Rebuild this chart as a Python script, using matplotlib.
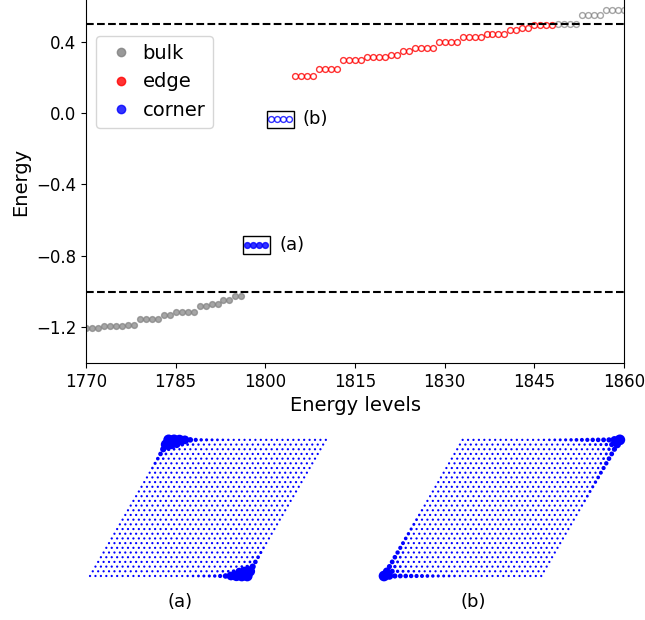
import numpy as np
import matplotlib
matplotlib.use("Agg")
import matplotlib.pyplot as plt
from matplotlib.lines import Line2D
from matplotlib.patches import Rectangle

# energies (first level index + values)
bulk_low_start = 1770
bulk_low = [-1.204, -1.204, -1.204, -1.194, -1.194, -1.194, -1.194, -1.185, -1.185,
            -1.155, -1.155, -1.155, -1.155, -1.131, -1.131, -1.114, -1.114, -1.114,
            -1.114, -1.079, -1.079, -1.067, -1.067, -1.049, -1.049, -1.023, -1.023]
corner_a_start = 1797
corner_a = [-0.741, -0.741, -0.741, -0.741]
corner_b_start = 1801
corner_b = [-0.035, -0.035, -0.035, -0.035]
edge_start = 1805
edge = [0.207, 0.207, 0.207, 0.207, 0.249, 0.249, 0.249, 0.249,
        0.298, 0.298, 0.298, 0.298, 0.316, 0.316, 0.316, 0.316,
        0.324, 0.324, 0.346, 0.346, 0.363, 0.363, 0.363, 0.363,
        0.398, 0.398, 0.398, 0.398, 0.424, 0.424, 0.424, 0.424,
        0.441, 0.441, 0.441, 0.441, 0.463, 0.463, 0.474, 0.474,
        0.495, 0.495, 0.495, 0.495]
bulk_high_start = 1849
bulk_high = [0.500, 0.500, 0.500, 0.500, 0.549, 0.549, 0.549, 0.549,
             0.575, 0.575, 0.575, 0.575]

gap_lines = [0.5, -1.0]
x_ticks = [1770, 1785, 1800, 1815, 1830, 1845, 1860]
y_ticks = [-1.2, -0.8, -0.4, 0.0, 0.4]

# lattice (rhombus, N x N sites) and marker sizes near the corners
n_sites = 30
bulk_size = 2.6
# rows: steps away from the corner along the slanted edge, cols: along the row
obtuse_sizes = [[60, 60, 55, 40, 16, 9, 6, 5, 4.5, 4, 3.5, 3],
                [55, 45, 26, 8, 4, 3.5, 3],
                [20, 7, 4, 3],
                [11, 4, 3],
                [7, 3.5],
                [5],
                [3.5]]
acute_sizes = [[60, 30, 14, 12, 11, 10, 9, 8, 7, 6, 5, 4.5, 4, 3.5, 3],
               [30, 14, 6, 4.5, 4, 3.5, 3],
               [14, 6, 4, 3],
               [12, 4.5, 3],
               [11, 4],
               [10, 3.5],
               [9, 3],
               [8], [7], [6], [5], [4.5], [4], [3.5], [3]]


def levels(start, vals):
    return start + np.arange(len(vals))


def corner_sizes(table, i, j, ci, cj):
    # distance from corner (ci, cj) along the row and along the slanted edge
    p, q = abs(i - ci), abs(j - cj)
    if q < len(table) and p < len(table[q]):
        return max(table[q][p], bulk_size)
    return bulk_size


def lattice_panel(ax, table, corners):
    ii, jj = np.meshgrid(np.arange(n_sites), np.arange(n_sites))
    ii, jj = ii.ravel(), jj.ravel()
    x = ii + 0.5 * jj
    y = jj * np.sqrt(3) / 2
    s = np.array([max(corner_sizes(table, i, j, ci, cj) for ci, cj in corners)
                  for i, j in zip(ii, jj)])
    order = np.argsort(s)
    ax.scatter(x[order], y[order], s=s[order], color='blue', linewidths=0)
    ax.set_xlim(-2, 45.5)
    ax.set_ylim(-2, 27.1)
    ax.axis('off')


fig = plt.figure(figsize=(6.45, 6.2), dpi=100)
ax = fig.add_axes([86 / 645, 1 - 363 / 620, 538 / 645, 363 / 620])

ax.plot(levels(bulk_low_start, bulk_low), bulk_low, 'o', color='gray', alpha=0.7, ms=4.2)
ax.plot(levels(bulk_high_start, bulk_high), bulk_high, 'o', mfc='none', mec='gray',
        alpha=0.7, ms=4.2, mew=1)
ax.plot(levels(edge_start, edge), edge, 'o', mfc='none', mec='red', alpha=0.8, ms=4.2, mew=1)
ax.plot(levels(corner_a_start, corner_a), corner_a, 'o', color='blue', alpha=0.8, ms=4.2)
ax.plot(levels(corner_b_start, corner_b), corner_b, 'o', mfc='none', mec='blue',
        alpha=0.8, ms=4.2, mew=1)

for yl in gap_lines:
    ax.axhline(yl, color='black', ls='--', lw=1.5)

ax.add_patch(Rectangle((1796.3, -0.792), 4.5, 0.103, fill=False, ec='black', lw=1))
ax.add_patch(Rectangle((1800.2, -0.084), 4.6, 0.095, fill=False, ec='black', lw=1))
ax.text(1802.3, -0.741, '(a)', fontsize=13, va='center')
ax.text(1806.3, -0.035, '(b)', fontsize=13, va='center')

ax.set_xlim(1770, 1860)
ax.set_ylim(-1.4, 0.633)
ax.set_xticks(x_ticks)
ax.set_yticks(y_ticks)
ax.tick_params(labelsize=12)
ax.spines['top'].set_visible(False)
ax.set_xlabel('Energy levels', fontsize=14)
ax.set_ylabel('Energy', fontsize=14)

handles = [Line2D([], [], ls='none', marker='o', color=c, alpha=0.8, ms=6)
           for c in ['gray', 'red', 'blue']]
ax.legend(handles, ['bulk', 'edge', 'corner'], loc='upper left',
          bbox_to_anchor=(0.0186, 0.901), borderaxespad=0, fontsize=14,
          handlelength=1.8, handletextpad=0.2)

ax_a = fig.add_axes([0.1228, 0.0535, 0.3992, 0.2544])
lattice_panel(ax_a, obtuse_sizes, [(0, n_sites - 1), (n_sites - 1, 0)])
ax_b = fig.add_axes([0.5786, 0.0535, 0.3992, 0.2544])
lattice_panel(ax_b, acute_sizes, [(0, 0), (n_sites - 1, n_sites - 1)])

fig.text(180 / 645, 1 - 602 / 620, '(a)', fontsize=13, ha='center', va='center')
fig.text(473 / 645, 1 - 602 / 620, '(b)', fontsize=13, ha='center', va='center')

fig.savefig('out.png', dpi=100)
